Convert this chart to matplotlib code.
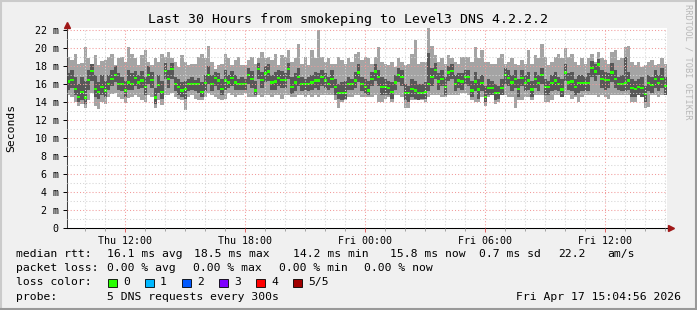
import numpy as np
import matplotlib
matplotlib.use('Agg')
import matplotlib.pyplot as plt
from matplotlib.patches import Rectangle
from matplotlib.lines import Line2D

# smokeping samples, every 10 min from Thu 09:05 to Fri 15:05, values in ms
# 5 pings per sample, sorted: ping_min <= ping_lo <= median <= ping_hi <= ping_max
median = [
    16.3, 16.5, 15.5, 14.6, 15.1, 14.5, 16.5, 17.5, 15.5, 15.1, 15.7, 15.3, 16.0, 16.6, 17.0, 16.0, 16.0, 15.3, 16.2, 16.0, 16.7, 16.2, 16.4, 15.7, 17.0, 16.5, 14.5, 15.9, 15.1, 17.5,
    16.6, 17.7, 16.0, 15.7, 15.3, 15.5, 16.0, 16.0, 16.0, 16.0, 15.1, 16.1, 17.0, 16.0, 16.7, 16.4, 15.5, 16.4, 16.2, 16.7, 16.2, 16.0, 16.0, 16.0, 17.0, 16.6, 15.3, 17.7, 16.5, 17.2,
    17.4, 16.2, 16.3, 16.7, 16.5, 16.5, 17.7, 15.7, 16.2, 16.8, 16.0, 16.0, 16.0, 16.2, 16.4, 16.4, 16.8, 16.4, 16.0, 16.6, 15.7, 15.0, 15.0, 15.0, 16.0, 16.0, 16.4, 17.3, 16.0, 15.7,
    15.3, 16.6, 17.4, 16.8, 15.7, 15.7, 15.6, 15.1, 16.2, 17.0, 16.8, 15.0, 15.0, 15.5, 15.3, 15.0, 15.0, 15.1, 16.0, 16.8, 17.6, 16.3, 16.6, 15.7, 17.3, 17.5, 16.0, 16.4, 16.3, 16.8,
    16.8, 15.3, 16.3, 15.4, 16.1, 14.6, 15.6, 15.6, 15.0, 15.0, 15.6, 17.0, 16.7, 16.2, 16.6, 15.5, 16.7, 16.1, 16.4, 15.4, 16.6, 16.1, 17.0, 15.7, 15.7, 16.1, 16.4, 16.0, 15.4, 17.3,
    16.2, 16.3, 15.7, 16.1, 16.1, 16.1, 16.1, 17.8, 17.4, 18.2, 16.6, 16.5, 16.5, 17.3, 16.6, 16.0, 16.0, 16.1, 16.4, 15.6, 15.5, 15.7, 15.6, 14.9, 16.1, 15.9, 16.6, 16.1, 16.6, 15.8,
]
ping_max = [
    19.0, 18.7, 19.4, 18.3, 18.4, 20.1, 18.9, 18.3, 19.2, 18.1, 18.6, 18.7, 19.0, 19.4, 18.1, 18.9, 19.0, 18.5, 20.1, 19.4, 18.9, 18.1, 19.2, 19.8, 18.5, 18.1, 18.9, 18.5, 19.4, 19.0,
    19.6, 18.9, 18.5, 17.9, 19.2, 18.5, 18.1, 18.3, 18.3, 19.0, 19.4, 18.9, 20.3, 18.5, 17.7, 18.1, 18.3, 19.4, 18.9, 18.1, 18.7, 19.0, 18.1, 18.1, 18.7, 19.0, 18.3, 18.9, 19.6, 18.9,
    19.0, 18.7, 19.4, 18.1, 19.2, 19.0, 19.8, 18.5, 18.9, 20.5, 18.3, 19.0, 18.1, 19.8, 18.9, 22.0, 19.0, 18.5, 18.9, 18.3, 18.3, 19.0, 18.7, 18.3, 18.9, 18.5, 19.4, 19.6, 18.7, 19.0,
    18.9, 18.3, 19.0, 20.1, 18.5, 18.3, 18.1, 18.5, 17.9, 18.9, 18.5, 18.1, 18.3, 19.4, 20.9, 18.3, 18.5, 18.5, 22.2, 20.3, 19.2, 18.5, 18.9, 18.3, 19.2, 18.9, 18.5, 18.3, 19.0, 19.0,
    19.0, 18.5, 20.1, 18.9, 19.8, 18.5, 18.5, 18.3, 18.3, 18.9, 19.4, 18.3, 18.5, 18.9, 18.3, 18.1, 18.7, 18.3, 19.8, 18.3, 19.2, 18.9, 20.5, 19.0, 18.1, 18.5, 19.0, 19.4, 18.9, 20.0,
    19.0, 19.4, 18.5, 18.1, 18.9, 18.3, 18.9, 19.4, 18.5, 19.6, 18.9, 18.7, 18.3, 19.6, 19.8, 18.7, 18.9, 20.1, 20.3, 18.5, 18.1, 18.5, 17.9, 18.1, 18.5, 18.7, 18.1, 18.3, 18.9, 18.3,
]
ping_hi = [
    17.2, 17.6, 16.8, 16.0, 16.8, 16.4, 17.6, 18.2, 17.0, 16.2, 17.0, 16.4, 17.0, 17.6, 18.0, 17.2, 16.8, 16.4, 17.6, 17.2, 17.5, 17.0, 17.5, 16.8, 18.0, 17.4, 15.6, 17.0, 16.4, 18.4,
    17.6, 18.4, 16.8, 16.6, 16.2, 16.4, 16.6, 16.8, 16.5, 16.7, 16.2, 17.0, 18.0, 17.0, 17.4, 17.2, 16.6, 17.6, 17.0, 17.5, 17.0, 16.6, 16.8, 16.6, 17.8, 17.5, 16.4, 18.4, 17.4, 18.0,
    18.2, 17.0, 17.4, 17.6, 17.5, 17.2, 18.4, 16.8, 17.2, 17.8, 16.8, 16.6, 16.8, 17.0, 17.4, 17.2, 17.6, 17.2, 16.8, 17.6, 16.6, 16.0, 16.2, 16.4, 16.8, 16.6, 17.4, 18.2, 16.8, 16.6,
    16.4, 17.4, 18.2, 17.6, 16.8, 16.6, 16.4, 16.2, 17.0, 17.8, 17.6, 16.0, 15.8, 16.6, 16.4, 16.0, 16.0, 16.2, 19.5, 17.8, 18.4, 17.2, 17.6, 16.8, 18.0, 18.2, 17.0, 17.2, 17.2, 17.6,
    17.6, 16.4, 17.4, 16.6, 17.0, 15.8, 16.6, 16.4, 16.0, 15.8, 16.6, 17.8, 17.6, 17.0, 17.6, 16.6, 17.6, 17.0, 17.4, 16.4, 17.4, 17.0, 17.8, 16.6, 16.4, 17.0, 17.4, 16.8, 16.6, 18.2,
    17.2, 17.4, 16.6, 17.0, 17.0, 16.8, 17.2, 18.6, 18.2, 18.8, 17.6, 17.4, 17.2, 18.4, 17.6, 16.8, 17.0, 19.0, 17.4, 16.6, 16.4, 16.6, 16.8, 15.8, 17.0, 16.8, 17.6, 17.0, 17.8, 16.8,
]
ping_lo = [
    15.4, 15.6, 14.8, 14.0, 14.2, 13.8, 15.4, 16.4, 14.6, 14.4, 14.8, 14.6, 15.3, 15.8, 16.2, 15.4, 15.2, 14.6, 15.4, 15.3, 15.8, 15.5, 15.6, 14.8, 16.0, 15.6, 13.8, 15.0, 14.4, 16.6,
    15.6, 16.6, 15.2, 14.8, 14.6, 14.4, 15.2, 15.3, 15.2, 15.0, 14.6, 15.2, 16.0, 15.2, 15.8, 15.4, 14.8, 15.4, 15.6, 15.8, 15.4, 15.4, 15.3, 15.4, 16.0, 15.6, 14.8, 16.6, 15.6, 16.2,
    16.4, 15.4, 15.4, 15.8, 15.6, 15.6, 16.6, 14.9, 15.2, 15.8, 15.2, 15.3, 15.2, 15.4, 15.6, 15.4, 15.8, 15.6, 15.4, 15.6, 14.8, 14.4, 14.2, 14.4, 15.4, 15.3, 15.6, 16.2, 15.2, 14.9,
    14.8, 15.8, 16.4, 15.8, 14.8, 14.8, 14.8, 14.4, 15.4, 16.2, 15.8, 14.2, 14.0, 14.6, 14.4, 14.2, 14.4, 14.4, 15.2, 15.8, 16.6, 15.4, 15.8, 14.8, 16.4, 16.6, 15.2, 15.6, 15.4, 16.0,
    15.8, 14.6, 15.2, 14.4, 15.2, 14.0, 14.8, 14.8, 14.2, 14.4, 14.8, 16.0, 15.8, 15.2, 15.6, 14.6, 15.8, 15.2, 15.4, 14.6, 15.6, 15.2, 16.0, 14.8, 14.8, 15.2, 15.4, 15.2, 14.6, 16.4,
    15.4, 15.2, 14.8, 15.0, 15.2, 15.2, 15.2, 16.8, 16.4, 17.0, 15.6, 15.4, 15.6, 16.2, 15.6, 15.3, 15.2, 15.2, 15.4, 14.6, 14.6, 14.8, 14.6, 14.0, 15.2, 15.0, 15.6, 15.2, 15.6, 14.8,
]
ping_min = [
    14.8, 14.6, 14.0, 13.6, 13.8, 13.4, 14.2, 15.0, 13.6, 13.2, 14.0, 13.8, 14.6, 14.9, 15.0, 14.6, 14.4, 13.9, 14.5, 14.6, 14.8, 14.6, 14.2, 14.0, 14.8, 14.6, 13.3, 14.2, 13.7, 14.8,
    14.8, 15.0, 14.6, 14.4, 14.2, 13.1, 14.6, 14.8, 14.4, 14.2, 14.2, 14.6, 15.0, 14.8, 14.6, 14.4, 14.2, 14.4, 15.0, 14.8, 14.6, 14.8, 14.8, 15.0, 14.6, 14.6, 14.6, 14.8, 14.6, 14.8,
    14.8, 14.6, 14.8, 14.8, 14.4, 14.8, 14.8, 14.6, 14.6, 14.8, 14.8, 14.6, 14.8, 14.6, 14.8, 14.6, 14.8, 14.8, 14.8, 14.8, 14.2, 13.3, 14.0, 14.2, 14.6, 14.6, 14.8, 14.8, 14.6, 14.6,
    14.6, 14.6, 14.8, 14.0, 14.0, 14.4, 14.6, 14.0, 14.8, 14.8, 14.6, 13.3, 13.3, 14.2, 14.2, 14.2, 14.2, 14.0, 14.6, 14.8, 14.8, 14.8, 14.6, 14.6, 14.8, 14.8, 14.8, 14.8, 15.0, 15.0,
    14.8, 14.2, 14.0, 14.0, 14.6, 13.6, 14.6, 14.8, 13.8, 14.0, 14.8, 14.8, 14.6, 14.6, 13.3, 14.2, 14.2, 14.6, 14.6, 14.2, 14.8, 14.8, 14.8, 14.0, 14.0, 14.2, 14.8, 14.8, 14.6, 14.8,
    14.8, 14.4, 14.6, 14.0, 14.6, 14.8, 14.8, 14.8, 14.8, 14.6, 14.8, 14.6, 14.4, 14.8, 14.8, 14.8, 14.8, 14.8, 14.8, 14.0, 14.0, 14.8, 14.6, 13.3, 13.5, 14.8, 14.8, 14.6, 14.8, 14.8,
]

xtick_hours = [12, 18, 24, 30, 36]
xtick_labels = ['Thu 12:00', 'Thu 18:00', 'Fri 00:00', 'Fri 06:00', 'Fri 12:00']
ytick_values = [0, 2, 4, 6, 8, 10, 12, 14, 16, 18, 20, 22]
ytick_labels = ['0', '2 m', '4 m', '6 m', '8 m', '10 m', '12 m', '14 m', '16 m', '18 m', '20 m', '22 m']
loss_names = ['0', '1', '2', '3', '4', '5/5']
loss_colors = ['#26ff00', '#00b8ff', '#0059ff', '#7e00ff', '#ff0000', '#a10000']

W, H = 697, 310
MONO = 'DejaVu Sans Mono'
plt.rcParams['font.family'] = MONO


def fx(px):
    return px / W


def fy(py):
    return 1 - py / H


start_h = 9 + 5 / 60.0   # hours after Thu 00:00
step_h = 1 / 6.0
n = len(median)
end_h = start_h + n * step_h

fig = plt.figure(figsize=(W / 100, H / 100), dpi=100, facecolor='#f0f0f0')
ax = fig.add_axes([fx(67), fy(228), fx(600), 200 / H])
ax.set_facecolor('white')

x = start_h + np.arange(n) * step_h
xs = np.append(x, end_h)


def ext(a):
    a = np.asarray(a, dtype=float)
    return np.append(a, a[-1])


# smoke: outer pair light, inner pair dark
ax.fill_between(xs, ext(ping_min), ext(ping_max), step='post', color='#a4a4a4',
                linewidth=0, antialiased=False, zorder=1)
ax.fill_between(xs, ext(ping_lo), ext(ping_hi), step='post', color='#585858',
                linewidth=0, antialiased=False, zorder=1.1)
med = np.asarray(median)
ax.bar(x, 0.26, bottom=med - 0.13, width=step_h, align='edge', color=loss_colors[0],
       linewidth=0, zorder=1.2)

ax.set_xlim(start_h, end_h)
ax.set_ylim(0, 22.25)

ax.set_yticks(ytick_values)
ax.set_yticklabels(ytick_labels)
ax.set_yticks(np.arange(1, 22, 2), minor=True)
ax.set_xticks(xtick_hours)
ax.set_xticklabels(xtick_labels)
ax.set_xticks(np.arange(10, 40, 1), minor=True)

dots = (0, (1, 2))
ax.grid(which='minor', color='#d4d4d4', linestyle=dots, linewidth=0.75)
ax.grid(which='major', color='#f29a9a', linestyle=dots, linewidth=0.75)
ax.set_axisbelow(False)

ax.tick_params(which='major', axis='y', length=3, width=0.7, color='#000000',
               labelsize=7.2, pad=3)
ax.tick_params(which='minor', axis='y', length=0)
ax.tick_params(which='major', axis='x', length=3, width=0.7, color='#e06060',
               labelsize=7.2, pad=3)
ax.tick_params(which='minor', axis='x', length=2, width=0.7, color='#a0a0a0')

for s in ['top', 'right']:
    ax.spines[s].set_visible(False)
ax.spines['left'].set_color('#404040')
ax.spines['left'].set_linewidth(0.75)
ax.spines['bottom'].set_color('#000000')
ax.spines['bottom'].set_linewidth(0.75)

# axis arrows
ax.plot([end_h, end_h + 0.2], [0, 0], color='#000000', lw=0.75, clip_on=False)
ax.plot([end_h + 0.2], [0], marker='>', ms=4, color='#a01818', clip_on=False, zorder=5)
ax.plot([start_h, start_h], [22.25, 22.6], color='#404040', lw=0.75, clip_on=False)
ax.plot([start_h], [22.6], marker='^', ms=4, color='#a01818', clip_on=False, zorder=5)

# title and side labels
fig.text(fx(348), fy(19), 'Last 30 Hours from smokeping to Level3 DNS 4.2.2.2',
         ha='center', va='center', fontsize=9.5, color='#000000')
fig.text(fx(11), fy(128), 'Seconds', rotation=90, ha='center', va='center',
         fontsize=8.2)
fig.text(fx(688), fy(62), 'RRDTOOL / TOBI OETIKER', rotation=270, ha='center',
         va='center', fontsize=6.2, color='#b8b8b8')

# legend rows
fs = 8.2
row1 = [(16, 'median rtt:'), (107, '16.1 ms avg'), (194, '18.5 ms max'),
        (293, '14.2 ms min'), (390, '15.8 ms now'), (479, '0.7 ms sd'),
        (558, '22.2'), (607, 'am/s')]
for px, t in row1:
    fig.text(fx(px), fy(254), t, ha='left', va='center', fontsize=fs)

row2 = [(16, 'packet loss:'), (107, '0.00 % avg'), (193, '0.00 % max'),
        (279, '0.00 % min'), (364, '0.00 % now')]
for px, t in row2:
    fig.text(fx(px), fy(268), t, ha='left', va='center', fontsize=fs)

fig.text(fx(16), fy(282), 'loss color:', ha='left', va='center', fontsize=fs)
box_x = [108, 145, 182, 219, 256, 293]
for bx, name, c in zip(box_x, loss_names, loss_colors):
    fig.patches.append(Rectangle((fx(bx), fy(287)), fx(8.5), 8.5 / H,
                                 transform=fig.transFigure, facecolor=c,
                                 edgecolor='#000000', linewidth=0.6))
    fig.text(fx(bx + 15), fy(282), name, ha='left', va='center', fontsize=fs)

fig.text(fx(16), fy(297), 'probe:', ha='left', va='center', fontsize=fs)
fig.text(fx(107), fy(297), '5 DNS requests every 300s', ha='left', va='center',
         fontsize=fs)
fig.text(fx(681), fy(297), 'Fri Apr 17 15:04:56 2026', ha='right', va='center',
         fontsize=fs)

# 3d frame
fig.lines.append(Line2D([0, 1], [fy(0.5), fy(0.5)], transform=fig.transFigure,
                        color='#cbcbcb', lw=1.5))
fig.lines.append(Line2D([fx(0.5), fx(0.5)], [0, 1], transform=fig.transFigure,
                        color='#cbcbcb', lw=1.5))
fig.lines.append(Line2D([0, 1], [fy(309), fy(309)], transform=fig.transFigure,
                        color='#999999', lw=1.5))
fig.lines.append(Line2D([fx(696), fx(696)], [0, 1], transform=fig.transFigure,
                        color='#999999', lw=1.5))

fig.savefig('out.png', dpi=100, facecolor=fig.get_facecolor())
